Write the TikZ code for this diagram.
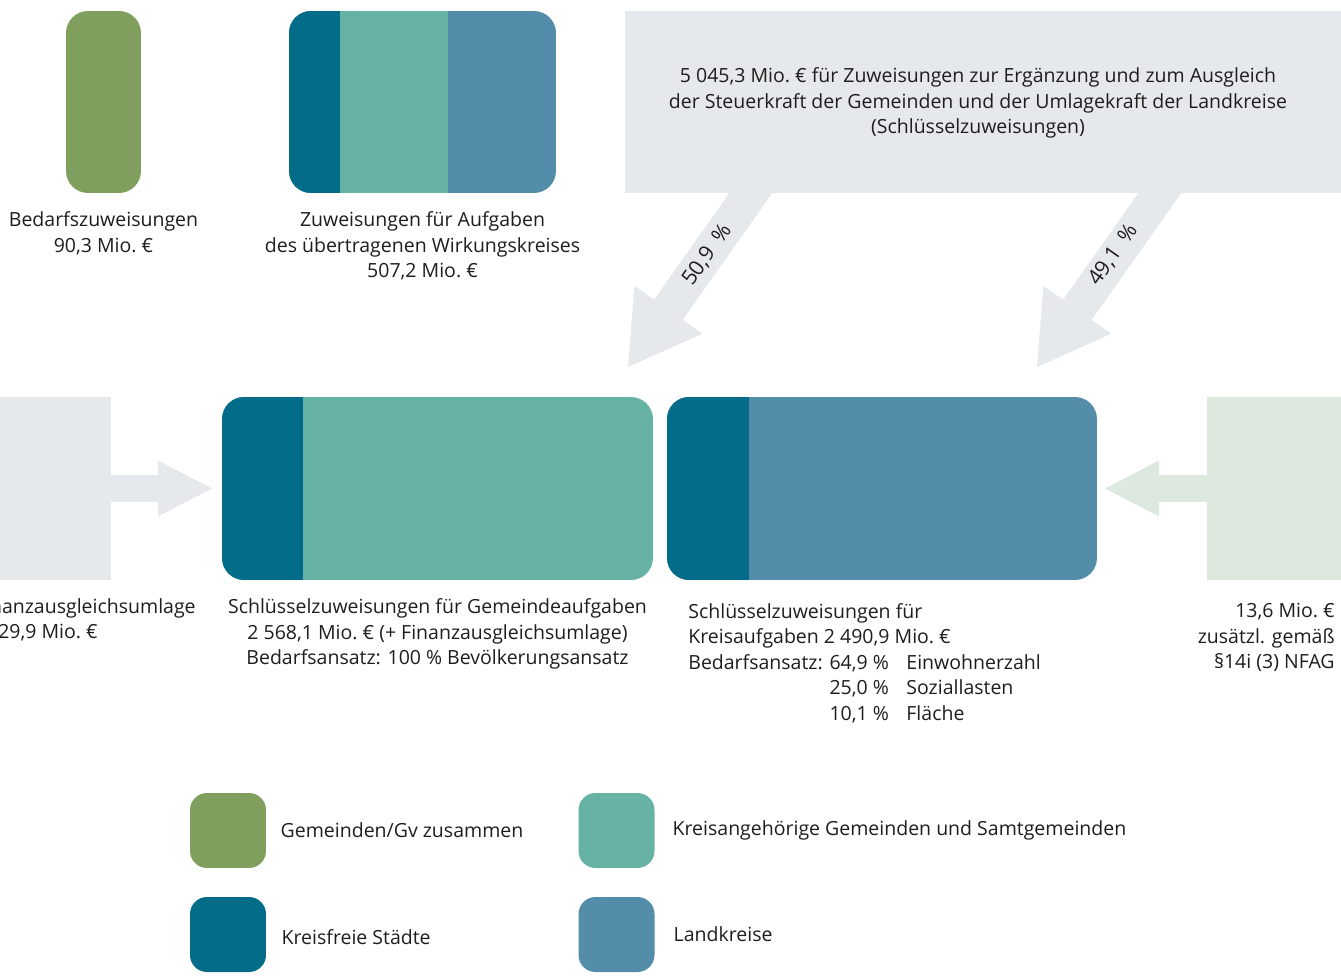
\documentclass[tikz,border=0pt]{standalone}
\usepackage{fontspec}
\setmainfont{Open Sans}
\usetikzlibrary{arrows.meta,positioning}

\definecolor{gemgreen}{HTML}{809E5D}
\definecolor{kfteal}{HTML}{036C89}
\definecolor{kamint}{HTML}{66B3A5}
\definecolor{lkblue}{HTML}{548DAA}
\definecolor{flowgrey}{HTML}{E5E9EC}
\definecolor{flowgreen}{HTML}{DDE8DF}
\definecolor{txtcol}{HTML}{1E1E1E}

\tikzset{
  box/.style={rounded corners=0.44cm, inner sep=0pt, minimum height=3.66cm},
  plainbox/.style={inner sep=0pt, minimum height=3.66cm},
  swatch/.style={rounded corners=0.34cm, inner sep=0pt, minimum width=1.52cm, minimum height=1.5cm},
  txt/.style={inner sep=0pt, text=txtcol, font=\fontsize{11.1}{14.5}\selectfont},
  bigflow/.style={draw=flowgrey, line width=0.7cm,
    -{Triangle[length=1.4cm, width=1.66cm, line width=0pt]}},
  smallflow/.style={draw=#1, line width=0.56cm,
    -{Triangle[length=1.08cm, width=1.12cm, line width=0pt]}}
}

\begin{document}
\begin{tikzpicture}[x=0.02cm, y=-0.02cm]
    \useasboundingbox (0,0) rectangle (1341,979);
    % top row
    \node [box, fill=gemgreen, minimum width=1.5cm, minimum height=3.64cm]  (bedBox) at (103.5,102) {};
    \node [box, fill=lkblue, minimum width=5.34cm, minimum height=3.64cm,
           path picture={
             \fill [kfteal, sharp corners] (path picture bounding box.north west) rectangle ([xshift=1.02cm]path picture bounding box.south west);
             \fill [kamint, sharp corners] ([xshift=1.02cm]path picture bounding box.north west) rectangle ([xshift=3.18cm]path picture bounding box.south west);
           }]                                                                (wkBox) at (422.5,102) {};
    \node [plainbox, fill=flowgrey, minimum width=14.7cm, minimum height=3.64cm] (keyBox) at (992.5,102) {};
    \node [txt, below=0.36cm of bedBox, align=center]  (bedTxt) {Bedarfszuweisungen\\90,3 Mio.~€};
    \node [txt, below=0.36cm of wkBox, align=center]   (wkTxt)  {Zuweisungen für Aufgaben\\des übertragenen Wirkungskreises\\507,2 Mio.~€};
    \node [txt, align=center] (keyTxt) at (978,103)
      {5 045,3 Mio.~€ für Zuweisungen zur Ergänzung und zum Ausgleich\\der Steuerkraft der Gemeinden und der Umlagekraft der Landkreise\\(Schlüsselzuweisungen)};
    % middle row
    \node [plainbox, fill=flowgrey, minimum width=3.22cm]   (fauBox)  at (30.5,488.5) {};
    \node [plainbox, fill=flowgreen, minimum width=3.06cm]  (nfagBox) at (1283.5,488.5) {};
    \node [box, fill=kamint, minimum width=8.62cm,
           path picture={\fill [kfteal, sharp corners] (path picture bounding box.north west) rectangle ([xshift=1.62cm]path picture bounding box.south west);}]
                                                            (gemBox)  at (437.5,488.5) {};
    \node [box, fill=lkblue, minimum width=8.6cm,
           path picture={\fill [kfteal, sharp corners] (path picture bounding box.north west) rectangle ([xshift=1.64cm]path picture bounding box.south west);}]
                                                            (kreisBox) at (882,488.5) {};
    % flows
    \coordinate (gemFrom)   at (772,163);
    \coordinate (gemTip)    at (628,367);
    \coordinate (kreisFrom) at (1181,163);
    \coordinate (kreisTip)  at (1037,367);
    \coordinate (fauTip)    at (212,488.5);
    \coordinate (nfagTip)   at (1105,488.5);
    \draw [bigflow] (gemFrom) -- (gemTip);
    \draw [bigflow] (kreisFrom) -- (kreisTip);
    \draw [smallflow=flowgrey]  ([xshift=-0.2cm]fauBox.east) -- (fauTip);
    \draw [smallflow=flowgreen] ([xshift=0.2cm]nfagBox.west) -- (nfagTip);
    \node [txt, rotate=55, font=\fontsize{12}{14.5}\selectfont] (gemPct)   at (707,255)  {50,9\enspace\%};
    \node [txt, rotate=55, font=\fontsize{12}{14.5}\selectfont] (kreisPct) at (1113,255) {49,1\enspace\%};
    % captions
    \node [txt, anchor=north east, align=right] (fauTxt) at (196,598)
      {Finanzausgleichsumlage\\29,9 Mio.~€\hspace*{1.96cm}};
    \node [txt, below=0.36cm of gemBox, align=center] (gemTxt)
      {Schlüsselzuweisungen für Gemeindeaufgaben\\2 568,1 Mio.~€ (+ Finanzausgleichsumlage)\\Bedarfsansatz: 100 \% Bevölkerungsansatz};
    \node [txt, anchor=north west, align=left] (kreisTxt) at (688,603)
      {Schlüsselzuweisungen für\\Kreisaufgaben 2 490,9 Mio.~€\\Bedarfsansatz: 64,9 \%\hspace{0.9em}Einwohnerzahl\\
       \hphantom{Bedarfsansatz: }25,0 \%\hspace{0.9em}Soziallasten\\\hphantom{Bedarfsansatz: }10,1 \%\hspace{0.9em}Fläche};
    \node [txt, anchor=north east, align=right] (nfagTxt) at (1335,603)
      {13,6 Mio.~€\\zusätzl. gemäß\\§14i (3) NFAG};
    % legend
    \node [swatch, fill=gemgreen] (lgGem)   at (228,830.5) {};
    \node [swatch, fill=kfteal]   (lgKf)    at (228,934.5) {};
    \node [swatch, fill=kamint]   (lgKa)    at (616.5,830.5) {};
    \node [swatch, fill=lkblue]   (lgLk)    at (616.5,934.5) {};
    \node [txt, right=0.28cm of lgGem]               (lgGemTxt) {Gemeinden/Gv zusammen};
    \node [txt, right=0.3cm of lgKf, yshift=-0.06cm] (lgKfTxt)  {Kreisfreie Städte};
    \node [txt, right=0.35cm of lgKa]                (lgKaTxt)  {Kreisangehörige Gemeinden und Samtgemeinden};
    \node [txt, right=0.37cm of lgLk]                (lgLkTxt)  {Landkreise};
\end{tikzpicture}
\end{document}
